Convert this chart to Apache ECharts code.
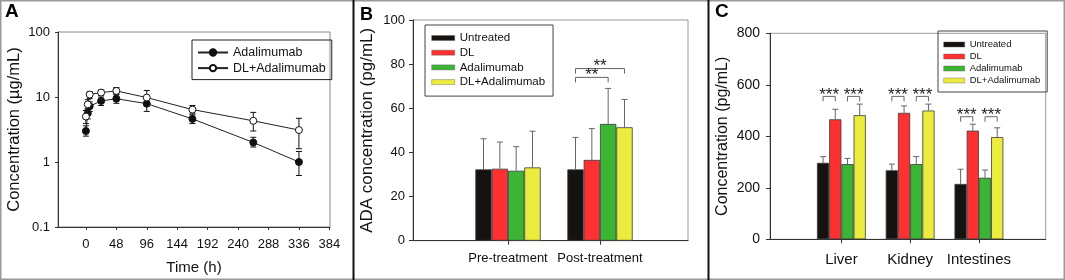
<!DOCTYPE html>
<html>
<head>
<meta charset="utf-8">
<title>Adalimumab PK and ADA</title>
<script src="https://cdn.jsdelivr.net/npm/echarts@6/dist/echarts.min.js"></script>
<style>
  html, body { margin: 0; padding: 0; background: #fff; }
  #main { width: 1065px; height: 280px; }
</style>
</head>
<body>
<div id="main"></div>
<script>
// panel A: serum concentration over time (log scale)
var timeH = [0, 3, 6, 24, 48, 96, 168, 264, 336];
var adaMean = [3.0, 5.6, 7.2, 8.7, 9.4, 7.9, 4.6, 2.0, 1.0];
var adaLow = [2.5, 4.6, 6.0, 7.4, 8.0, 6.0, 3.9, 1.7, 0.62];
var adaHigh = [3.6, 6.6, 8.4, 10.0, 10.8, 9.5, 5.3, 2.4, 1.45];
var dlAdaMean = [5.0, 7.7, 10.9, 11.7, 12.4, 9.8, 6.4, 4.3, 3.1];
var dlAdaLow = [3.9, 6.4, 9.5, 10.6, 11.0, 7.5, 5.5, 3.0, 1.6];
var dlAdaHigh = [6.2, 9.1, 12.0, 12.8, 14.0, 12.6, 7.4, 5.8, 4.7];
var timeTicks = [0, 48, 96, 144, 192, 240, 288, 336, 384];

// panel B: ADA concentration
var phases = ['Pre-treatment', 'Post-treatment'];
var adaUntreated = [32.3, 32.3];
var adaUntreatedSd = [13.9, 14.5];
var adaDL = [32.6, 36.6];
var adaDLSd = [12.1, 14.2];
var adaAda = [31.7, 52.9];
var adaAdaSd = [10.9, 16.1];
var adaDLAda = [33.2, 51.4];
var adaDLAdaSd = [16.4, 12.6];
var sigB = [[1, 0, 3, 78], [1, 0, 2, 74]];
var sigBText = ['**', '**'];

// panel C: tissue concentration
var organs = ['Liver', 'Kidney', 'Intestines'];
var tisUntreated = [297, 268, 215];
var tisUntreatedSd = [24, 24, 57];
var tisDL = [466, 491, 422];
var tisDLSd = [39, 27, 25];
var tisAda = [292, 292, 239];
var tisAdaSd = [22, 29, 30];
var tisDLAda = [482, 500, 397];
var tisDLAdaSd = [43, 25, 36];
var sigC = [[0, 0, 1, 555], [0, 2, 3, 555], [1, 0, 1, 555], [1, 2, 3, 555], [2, 0, 1, 476], [2, 2, 3, 476]];
var sigCText = ['***', '***', '***', '***', '***', '***'];

var groupNames = ['Untreated', 'DL', 'Adalimumab', 'DL+Adalimumab'];
var groupColors = ['#15120f', '#fd3131', '#3cb534', '#ecec3e'];

var FONT = "'Liberation Sans', Arial, Helvetica, sans-serif";
var GAP = 0.29;
var AXIS = '#333';

function errRenderLog(params, api) {
  var lo = api.coord([api.value(0), api.value(1)]);
  var hi = api.coord([api.value(0), api.value(2)]);
  var x = lo[0];
  return {
    type: 'group',
    children: [
      { type: 'line', shape: { x1: x, y1: lo[1], x2: x, y2: hi[1] }, style: { stroke: '#111', lineWidth: 1 } },
      { type: 'line', shape: { x1: x - 3, y1: lo[1], x2: x + 3, y2: lo[1] }, style: { stroke: '#111', lineWidth: 1 } },
      { type: 'line', shape: { x1: x - 3, y1: hi[1], x2: x + 3, y2: hi[1] }, style: { stroke: '#111', lineWidth: 1 } }
    ]
  };
}

function barErrRender(k) {
  return function (params, api) {
    var cat = api.value(0), mean = api.value(1), sd = api.value(2);
    var base = api.coord([cat, mean]);
    var top = api.coord([cat, mean + sd]);
    var bw = api.size([1, 0])[0] * (1 - GAP) / 4;
    var x = base[0] + (k - 1.5) * bw;
    return {
      type: 'group',
      children: [
        { type: 'line', shape: { x1: x, y1: base[1], x2: x, y2: top[1] }, style: { stroke: '#666', lineWidth: 1 } },
        { type: 'line', shape: { x1: x - 3, y1: top[1], x2: x + 3, y2: top[1] }, style: { stroke: '#666', lineWidth: 1 } }
      ]
    };
  };
}

function bracketRender(texts, leg, lift, fontSize) {
  return function (params, api) {
    var c = api.coord([api.value(0), api.value(3)]);
    var bw = api.size([1, 0])[0] * (1 - GAP) / 4;
    var x1 = c[0] + (api.value(1) - 1.5) * bw;
    var x2 = c[0] + (api.value(2) - 1.5) * bw;
    return {
      type: 'group',
      children: [
        { type: 'polyline', shape: { points: [[x1, c[1] + leg], [x1, c[1]], [x2, c[1]], [x2, c[1] + leg]] },
          style: { stroke: '#666', fill: null, lineWidth: 1 } },
        { type: 'text', style: { text: texts[params.dataIndex], x: (x1 + x2) / 2, y: c[1] - lift,
          align: 'center', verticalAlign: 'middle', fontSize: fontSize, fontFamily: FONT, fill: '#222' } }
      ]
    };
  };
}

function barGroup(axisIdx, valueLists, sdLists) {
  var out = [];
  valueLists.forEach(function (vals, k) {
    out.push({
      name: groupNames[k], type: 'bar', xAxisIndex: axisIdx, yAxisIndex: axisIdx,
      barGap: '0%', barCategoryGap: (GAP * 100) + '%',
      itemStyle: { color: groupColors[k], borderColor: '#3a3a3a', borderWidth: 0.8 },
      data: vals, silent: true, z: 2
    });
  });
  valueLists.forEach(function (vals, k) {
    out.push({
      type: 'custom', xAxisIndex: axisIdx, yAxisIndex: axisIdx, silent: true, z: 3,
      encode: { x: 0, y: 1 },
      renderItem: barErrRender(k),
      data: vals.map(function (v, i) { return [i, v, sdLists[k][i]]; })
    });
  });
  return out;
}

function frameX(gi) {
  return { gridIndex: gi, type: 'value', min: 0, max: 1, axisLabel: { show: false },
    axisTick: { show: false }, splitLine: { show: false }, axisLine: { onZero: false, lineStyle: { color: AXIS } } };
}

function catX(gi, cats, fs, margin) {
  return { gridIndex: gi, type: 'category', data: cats,
    axisLine: { show: false }, axisTick: { show: true, alignWithLabel: true, length: 4, lineStyle: { color: AXIS } },
    axisLabel: { interval: 0, fontSize: fs, color: '#111', fontFamily: FONT, margin: margin } };
}

var chart = echarts.init(document.getElementById('main'));

var series = [];
series.push({
  type: 'custom', xAxisIndex: 0, yAxisIndex: 0, silent: true, z: 1,
  encode: { x: 0, y: 1 }, renderItem: errRenderLog,
  data: timeH.map(function (t, i) { return [t, adaLow[i], adaHigh[i]]; })
});
series.push({
  type: 'custom', xAxisIndex: 0, yAxisIndex: 0, silent: true, z: 1,
  encode: { x: 0, y: 1 }, renderItem: errRenderLog,
  data: timeH.map(function (t, i) { return [t, dlAdaLow[i], dlAdaHigh[i]]; })
});
series.push({
  name: 'A:Adalimumab', type: 'line', xAxisIndex: 0, yAxisIndex: 0, z: 3,
  symbol: 'circle', symbolSize: 7,
  itemStyle: { color: '#111', borderColor: '#111', borderWidth: 1 },
  lineStyle: { color: '#222', width: 1 },
  data: timeH.map(function (t, i) { return [t, adaMean[i]]; })
});
series.push({
  name: 'A:DL+Adalimumab', type: 'line', xAxisIndex: 0, yAxisIndex: 0, z: 4,
  symbol: 'circle', symbolSize: 7,
  itemStyle: { color: '#fff', borderColor: '#111', borderWidth: 1 },
  lineStyle: { color: '#222', width: 1 },
  data: timeH.map(function (t, i) { return [t, dlAdaMean[i]]; })
});

series = series.concat(barGroup(2, [adaUntreated, adaDL, adaAda, adaDLAda],
  [adaUntreatedSd, adaDLSd, adaAdaSd, adaDLAdaSd]));
series = series.concat(barGroup(4, [tisUntreated, tisDL, tisAda, tisDLAda],
  [tisUntreatedSd, tisDLSd, tisAdaSd, tisDLAdaSd]));

series.push({
  type: 'custom', xAxisIndex: 2, yAxisIndex: 2, silent: true, z: 5,
  encode: { x: 0, y: 3 }, renderItem: bracketRender(sigBText, 5, 2, 17), data: sigB
});
series.push({
  type: 'custom', xAxisIndex: 4, yAxisIndex: 4, silent: true, z: 5,
  encode: { x: 0, y: 3 }, renderItem: bracketRender(sigCText, 5, 1, 17), data: sigC
});

var legendText = function (fs, lh) {
  return { fontSize: fs, lineHeight: lh, color: '#111', fontFamily: FONT };
};

var option = {
  animation: false,
  textStyle: { fontFamily: FONT },
  title: [
    { text: 'A', left: 5, top: 2, padding: 0, textStyle: { fontSize: 19, fontWeight: 'bold', color: '#000', fontFamily: FONT } },
    { text: 'B', left: 360, top: 6, padding: 0, textStyle: { fontSize: 18, fontWeight: 'bold', color: '#000', fontFamily: FONT } },
    { text: 'C', left: 715, top: 2, padding: 0, textStyle: { fontSize: 19, fontWeight: 'bold', color: '#000', fontFamily: FONT } }
  ],
  legend: [
    { data: ['A:Adalimumab', 'A:DL+Adalimumab'], formatter: function (n) { return n.slice(2); },
      orient: 'vertical', left: 192, top: 40, itemWidth: 30, itemHeight: 8, itemGap: 0.6,
      padding: [5, 6, 4, 5], borderColor: '#222', borderWidth: 1, selectedMode: false,
      textStyle: legendText(12.5, 15) },
    { data: groupNames, orient: 'vertical', left: 425, top: 25, icon: 'rect',
      itemWidth: 23, itemHeight: 5, itemGap: 0.7, padding: [6, 8, 7, 6.5],
      itemStyle: { borderWidth: 0.4, borderColor: '#555' },
      borderColor: '#444', borderWidth: 1, selectedMode: false, textStyle: legendText(11.5, 14) },
    { data: groupNames, orient: 'vertical', left: 938, top: 31, icon: 'rect',
      itemWidth: 21, itemHeight: 5, itemGap: 1, padding: [8, 7, 6, 5.5],
      itemStyle: { borderWidth: 0.4, borderColor: '#555' },
      borderColor: '#444', borderWidth: 1, selectedMode: false, textStyle: legendText(9.5, 11) }
  ],
  grid: [
    { left: 58, top: 32, width: 272, height: 195, show: true, borderColor: '#888', borderWidth: 1 },
    { left: 413, top: 20, width: 275, height: 220.7, show: true, borderColor: '#999', borderWidth: 1 },
    { left: 462, top: 20, width: 184, height: 220.7 },
    { left: 770, top: 33.3, width: 275.7, height: 206, show: true, borderColor: '#999', borderWidth: 1 },
    { left: 807, top: 33.3, width: 206.3, height: 206 }
  ],
  xAxis: [
    { gridIndex: 0, type: 'value', min: -44, max: 385,
      name: 'Time (h)', nameLocation: 'middle', nameGap: 33,
      nameTextStyle: { fontSize: 15, color: '#111', fontFamily: FONT },
      axisLine: { onZero: false, lineStyle: { color: AXIS } },
      axisTick: { show: true, length: 3, customValues: timeTicks, lineStyle: { color: AXIS } },
      axisLabel: { customValues: timeTicks, fontSize: 13, color: '#111', margin: 11, fontFamily: FONT },
      splitLine: { show: false } },
    frameX(1),
    catX(2, phases, 13, 11),
    frameX(3),
    catX(4, organs, 15, 13)
  ],
  yAxis: [
    { gridIndex: 0, type: 'log', logBase: 10, min: 0.1, max: 100,
      name: 'Concentration (\u00b5g/mL)', nameLocation: 'middle', nameGap: 35,
      nameTextStyle: { fontSize: 16.5, color: '#111', fontFamily: FONT },
      axisLine: { show: true, onZero: false, lineStyle: { color: AXIS } },
      axisTick: { show: true, length: 3, lineStyle: { color: AXIS } },
      minorTick: { show: false },
      axisLabel: { fontSize: 13, color: '#111', margin: 8, fontFamily: FONT,
        formatter: function (v) { return v < 1 ? v.toFixed(1) : String(Math.round(v)); } },
      splitLine: { show: false } },
    { gridIndex: 1, type: 'value', min: 0, max: 100, interval: 20,
      name: 'ADA concentration (pg/mL)', nameLocation: 'middle', nameGap: 37,
      nameTextStyle: { fontSize: 17, color: '#111', fontFamily: FONT },
      axisLine: { show: true, onZero: false, lineStyle: { color: AXIS } },
      axisTick: { show: true, length: 4, lineStyle: { color: AXIS } },
      axisLabel: { fontSize: 13, color: '#111', margin: 8, fontFamily: FONT },
      splitLine: { show: false } },
    { gridIndex: 2, type: 'value', min: 0, max: 100, show: false },
    { gridIndex: 3, type: 'value', min: 0, max: 800, interval: 200,
      name: 'Concentration (pg/mL)', nameLocation: 'middle', nameGap: 39,
      nameTextStyle: { fontSize: 16, color: '#111', fontFamily: FONT },
      axisLine: { show: true, onZero: false, lineStyle: { color: AXIS } },
      axisTick: { show: true, length: 4, lineStyle: { color: AXIS } },
      axisLabel: { fontSize: 14, color: '#111', margin: 10, fontFamily: FONT },
      splitLine: { show: false } },
    { gridIndex: 4, type: 'value', min: 0, max: 800, show: false }
  ],
  graphic: [
    { type: 'rect', silent: true, shape: { x: 0.5, y: 0.5, width: 1064, height: 279 },
      style: { fill: null, stroke: '#9a9a9a', lineWidth: 2 } },
    { type: 'line', silent: true, shape: { x1: 353.5, y1: 0, x2: 353.5, y2: 280 }, style: { stroke: '#111', lineWidth: 2 } },
    { type: 'line', silent: true, shape: { x1: 708.5, y1: 0, x2: 708.5, y2: 280 }, style: { stroke: '#111', lineWidth: 2 } }
  ],
  series: series
};

chart.setOption(option);
</script>
</body>
</html>
